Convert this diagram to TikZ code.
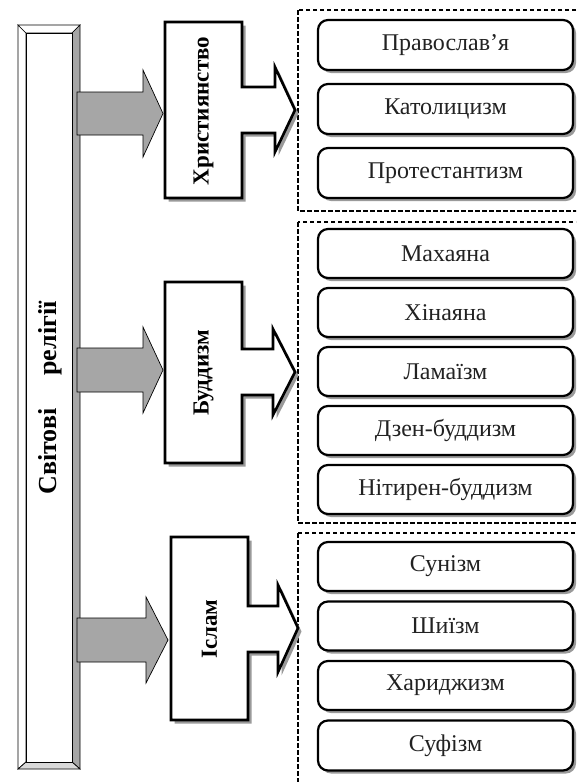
\documentclass[tikz,border=0pt]{standalone}
\usepackage{fontspec}
\setmainfont{Liberation Serif}
\usetikzlibrary{shadows}
\definecolor{barshade}{HTML}{A6A6A6}
\definecolor{barlight}{HTML}{D9D9D9}
\definecolor{shade}{HTML}{9A9A9A}
\definecolor{inktext}{HTML}{222222}
\begin{document}
\begin{tikzpicture}[x=1pt,y=-1pt,
  bevel/.style={draw=black,line width=0.7pt,line join=miter},
  feed/.style={draw=black,fill=barshade,line width=0.7pt,line join=miter},
  callout/.style={draw=black,fill=white,line width=2.6pt,line join=miter},
  calloutshadow/.style={fill=shade,xshift=3.5pt,yshift=-3.5pt},
  calloutlabel/.style={rotate=90,font=\bfseries\fontsize{23}{27}\selectfont,inner sep=0pt},
  group/.style={draw=black,dashed,dash pattern=on 4.5pt off 2.5pt,line width=1.1pt},
  item/.style={draw=black,fill=white,line width=2.2pt,rounded corners=10pt,
    minimum width=255pt,inner sep=0pt,text=inktext,
    font=\fontsize{24}{28}\selectfont,
    drop shadow={shadow xshift=3pt,shadow yshift=-3pt,fill=shade,opacity=1}},
]
\useasboundingbox (0,0) rectangle (576,782);
\clip (0,0) rectangle (576,782);

% ---- vertical title bar with bevelled frame ----
\filldraw[bevel,fill=white] (18,25) -- (26,33) -- (26,762) -- (18,769) -- cycle;
\filldraw[bevel,fill=white] (18,25) -- (80,25) -- (72,33) -- (26,33) -- cycle;
\filldraw[bevel,fill=barshade] (80,25) -- (80,769) -- (72,762) -- (72,33) -- cycle;
\filldraw[bevel,fill=barlight] (18,769) -- (80,769) -- (72,762) -- (26,762) -- cycle;
\draw[bevel,fill=white] (26,33) rectangle (72,762);
\node[rotate=90,inner sep=0pt,font=\bfseries\fontsize{26}{30}\selectfont]
  (title) at (50,398) {Світові\hspace{33pt}релігії};

% ---- grey feed arrows ----
\filldraw[feed] (77,92) -- (143,92) -- (143,70) -- (163,113.5) -- (143,157) -- (143,135) -- (77,135) -- cycle;
\filldraw[feed] (77,348) -- (143,348) -- (143,327) -- (163,370) -- (143,413) -- (143,392) -- (77,392) -- cycle;
\filldraw[feed] (77,618) -- (146,618) -- (146,597) -- (168,640) -- (146,683) -- (146,662) -- (77,662) -- cycle;

% ---- dashed groups ----
\draw[group] (298,10) rectangle (600,211);
\draw[group] (298,222) rectangle (600,523);
\draw[group] (298,533) rectangle (600,800);

% ---- religion callouts ----
\fill[calloutshadow] (165,22) -- (242,22) -- (242,87) -- (275,87) -- (275,67) -- (295,110) -- (275,152) -- (275,133) -- (242,133) -- (242,198) -- (165,198) -- cycle;
\filldraw[callout] (165,22) -- (242,22) -- (242,87) -- (275,87) -- (275,67) -- (295,110) -- (275,152) -- (275,133) -- (242,133) -- (242,198) -- (165,198) -- cycle;
\node[calloutlabel] (chr) at (203.5,111) {Християнство};

\fill[calloutshadow] (165,282) -- (242,282) -- (242,349) -- (273,349) -- (273,329) -- (295,372) -- (273,415) -- (273,395) -- (242,395) -- (242,463) -- (165,463) -- cycle;
\filldraw[callout] (165,282) -- (242,282) -- (242,349) -- (273,349) -- (273,329) -- (295,372) -- (273,415) -- (273,395) -- (242,395) -- (242,463) -- (165,463) -- cycle;
\node[calloutlabel] (bud) at (203.5,373) {Буддизм};

\fill[calloutshadow] (171,537) -- (248,537) -- (248,606) -- (278,606) -- (278,585) -- (298,628) -- (278,672) -- (278,652) -- (248,652) -- (248,720) -- (171,720) -- cycle;
\filldraw[callout] (171,537) -- (248,537) -- (248,606) -- (278,606) -- (278,585) -- (298,628) -- (278,672) -- (278,652) -- (248,652) -- (248,720) -- (171,720) -- cycle;
\node[calloutlabel] (isl) at (209.5,629) {Іслам};

% ---- branches ----
\node[item,minimum height=50pt] (c1) at (445.5,45) {Православ’я};
\node[item,minimum height=50pt] (c2) at (445.5,109) {Католицизм};
\node[item,minimum height=50pt] (c3) at (445.5,173) {Протестантизм};

\node[item,minimum height=49pt] (b1) at (445.5,253.5) {Махаяна};
\node[item,minimum height=49pt] (b2) at (445.5,312.5) {Хінаяна};
\node[item,minimum height=49pt] (b3) at (445.5,371.5) {Ламаїзм};
\node[item,minimum height=49pt] (b4) at (445.5,430.5) {Дзен-буддизм};
\node[item,minimum height=49pt] (b5) at (445.5,489.5) {Нітирен-буддизм};

\node[item,minimum height=49pt] (i1) at (445.5,566.5) {Сунізм};
\node[item,minimum height=49pt] (i2) at (445.5,626) {Шиїзм};
\node[item,minimum height=49pt] (i3) at (445.5,685.5) {Хариджизм};
\node[item,minimum height=50pt] (i4) at (445.5,745.5) {Суфізм};
\end{tikzpicture}
\end{document}
